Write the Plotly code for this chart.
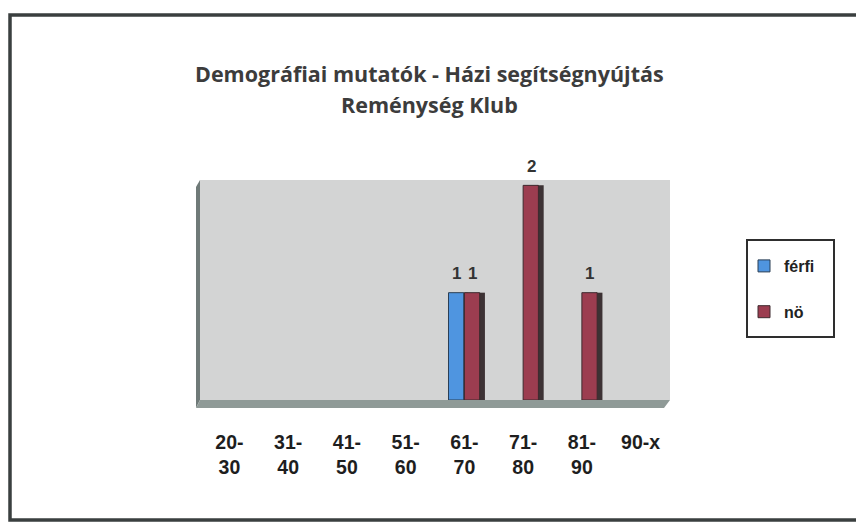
import plotly.graph_objects as go

categories = ["20-<br>30", "31-<br>40", "41-<br>50", "51-<br>60", "61-<br>70", "71-<br>80", "81-<br>90", "90-x"]
ferfi = [0, 0, 0, 0, 1, 0, 0, 0]
no = [0, 0, 0, 0, 1, 2, 1, 0]
series_names = ["férfi", "nö"]
title_lines = ["Demográfiai mutatók - Házi segítségnyújtás", "Reménység Klub"]

# page has an 8px body margin; figure coordinates are page coordinates minus 8
OFF = 8
W, H = 864 - OFF, 523 - OFF
L, R, T, B = 192, 194, 172, 123
PW, PH = W - L - R, H - T - B


def px(x):
    return (x - OFF - L) / PW


def py(y):
    return (H - B - (y - OFF)) / PH


def nz(vals):
    return [v if v else None for v in vals]


fig = go.Figure()
# dark side faces (3D look)
fig.add_trace(go.Bar(x=categories, y=nz(ferfi), offset=-0.02, width=0.08,
                     marker=dict(color="#34465a", line=dict(width=0)),
                     showlegend=False, hoverinfo="skip"))
fig.add_trace(go.Bar(x=categories, y=nz(no), offset=0.24, width=0.11,
                     marker=dict(color="#3c3234", line=dict(width=0)),
                     showlegend=False, hoverinfo="skip"))
# front faces
fig.add_trace(go.Bar(x=categories, y=nz(ferfi), offset=-0.27, width=0.26, name=series_names[0],
                     marker=dict(color="#4f95e0", line=dict(color="#2b3f55", width=1)),
                     legendgroup="a"))
fig.add_trace(go.Bar(x=categories, y=nz(no), offset=0.0, width=0.26, name=series_names[1],
                     marker=dict(color="#9c3d50", line=dict(color="#3e2a2e", width=1)),
                     legendgroup="b"))

annotations = []
for vals, shift in ((ferfi, -8), (no, 8)):
    for c, v in zip(categories, vals):
        if v:
            annotations.append(dict(x=c, y=v, text="<b>%d</b>" % v, showarrow=False,
                                    xshift=shift, yshift=19,
                                    font=dict(family="Liberation Sans", size=17, color="#333333")))

annotations += [
    dict(text="<b>" + title_lines[0] + "</b>", xref="paper", yref="paper",
         x=px(429), y=py(57), showarrow=False,
         font=dict(family="Open Sans", size=21.5, color="#3c3c3c")),
    dict(text="<b>" + title_lines[1] + "</b>", xref="paper", yref="paper",
         x=px(429), y=py(88), showarrow=False,
         font=dict(family="Open Sans", size=21.5, color="#3c3c3c")),
]

shapes = [
    # outer frame
    dict(type="rect", xref="paper", yref="paper",
         x0=px(10), x1=px(872), y0=py(520), y1=py(15),
         line=dict(color="#3a3f3f", width=3.5), layer="below"),
    # left side wall
    dict(type="path", xref="paper", yref="paper",
         path="M {a},{b} L 0,0 L 0,1 L {a},{c} Z".format(a=px(196), b=py(408), c=py(187)),
         fillcolor="#6f7a78", line=dict(width=0), layer="above"),
    # floor
    dict(type="path", xref="paper", yref="paper",
         path="M 0,0 L 1,0 L {a},{b} L {c},{b} Z".format(a=px(664), b=py(408), c=px(196)),
         fillcolor="#8f9a97", line=dict(width=0), layer="above"),
    # legend box
    dict(type="rect", xref="paper", yref="paper",
         x0=px(747), x1=px(834), y0=py(337), y1=py(240),
         line=dict(color="#2e2e2e", width=2), fillcolor="white", layer="below"),
]

fig.update_layout(
    width=W, height=H,
    margin=dict(l=L, r=R, t=T, b=B),
    paper_bgcolor="white", plot_bgcolor="#d3d4d4",
    barmode="overlay",
    shapes=shapes, annotations=annotations,
    legend=dict(x=px(744), y=py(249),
                xanchor="left", yanchor="top",
                borderwidth=0, bgcolor="rgba(0,0,0,0)", itemwidth=30,
                font=dict(family="Liberation Sans", size=16, color="#222222", weight="bold"),
                tracegroupgap=22, traceorder="grouped"),
    xaxis=dict(showgrid=False, zeroline=False, showline=False, ticks="",
               tickfont=dict(family="Liberation Sans", size=19.5, color="#1e1e1e", weight="bold"),
               ticklabelstandoff=28),
    yaxis=dict(range=[0, 2.05], showgrid=False, zeroline=False, showline=False,
               showticklabels=False, ticks=""),
)

fig.write_html("out.html")
